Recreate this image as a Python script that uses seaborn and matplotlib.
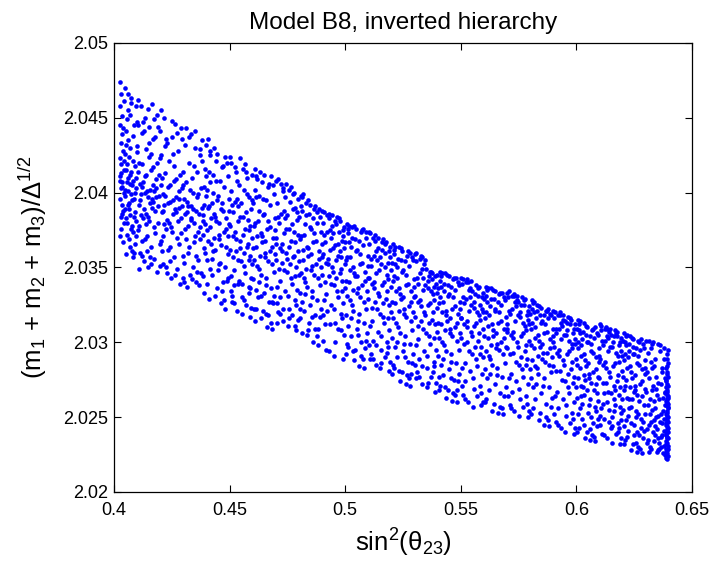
import matplotlib
matplotlib.use("Agg")
import matplotlib.pyplot as plt
from matplotlib.ticker import FixedLocator, FuncFormatter
import seaborn as sns
import pandas as pd

# points: (sin^2(theta23), (m1+m2+m3)/Delta^(1/2))
# grouped by sin^2(theta23) range
pts_040_044 = [
    (0.4026, 2.0474), (0.4031, 2.0466), (0.4028, 2.0458), (0.4035, 2.0451), (0.4027, 2.0445),
    (0.4033, 2.0439), (0.4029, 2.0433), (0.4038, 2.0428), (0.4026, 2.0423), (0.4032, 2.0419),
    (0.4041, 2.0415), (0.4028, 2.0411), (0.4036, 2.0407), (0.4030, 2.0403), (0.4043, 2.0400),
    (0.4027, 2.0396), (0.4034, 2.0392), (0.4039, 2.0388), (0.4029, 2.0384), (0.4044, 2.0380),
    (0.4032, 2.0376), (0.4027, 2.0371), (0.4037, 2.0367), (0.4030, 2.0413), (0.4042, 2.0421),
    (0.4035, 2.0404), (0.4040, 2.0443), (0.4026, 2.0408), (0.4033, 2.0386), (0.4045, 2.0461),
    (0.4047, 2.0470), (0.4052, 2.0441), (0.4049, 2.0398), (0.4055, 2.0372), (0.4058, 2.0419),
    (0.4051, 2.0359), (0.4061, 2.0455), (0.4054, 2.0407), (0.4064, 2.0389), (0.4048, 2.0426),
    (0.4067, 2.0364), (0.4059, 2.0435), (0.4070, 2.0412), (0.4053, 2.0383), (0.4073, 2.0463),
    (0.4062, 2.0401), (0.4076, 2.0378), (0.4057, 2.0449), (0.4079, 2.0395), (0.4066, 2.0369),
    (0.4082, 2.0421), (0.4060, 2.0392), (0.4085, 2.0445), (0.4071, 2.0406), (0.4088, 2.0360),
    (0.4068, 2.0430), (0.4091, 2.0387), (0.4075, 2.0414), (0.4094, 2.0458), (0.4080, 2.0374),
    (0.4097, 2.0403), (0.4084, 2.0438), (0.4050, 2.0415), (0.4087, 2.0396), (0.4056, 2.0380),
    (0.4090, 2.0366), (0.4063, 2.0424), (0.4093, 2.0410), (0.4069, 2.0452), (0.4096, 2.0381),
    (0.4074, 2.0399), (0.4099, 2.0427), (0.4078, 2.0361), (0.4046, 2.0389), (0.4081, 2.0408),
    (0.4059, 2.0466), (0.4086, 2.0384), (0.4065, 2.0393), (0.4092, 2.0418), (0.4072, 2.0376),
    (0.4098, 2.0447), (0.4077, 2.0405), (0.4053, 2.0432), (0.4083, 2.0357), (0.4060, 2.0410),
    (0.4089, 2.0400), (0.4067, 2.0385), (0.4095, 2.0371), (0.4074, 2.0460), (0.4048, 2.0402),
    (0.4101, 2.0431), (0.4107, 2.0392), (0.4113, 2.0360), (0.4104, 2.0462), (0.4119, 2.0404),
    (0.4110, 2.0378), (0.4125, 2.0447), (0.4116, 2.0399), (0.4131, 2.0354), (0.4122, 2.0419),
    (0.4137, 2.0386), (0.4128, 2.0441), (0.4143, 2.0401), (0.4134, 2.0369), (0.4149, 2.0456),
    (0.4140, 2.0412), (0.4155, 2.0393), (0.4146, 2.0350), (0.4161, 2.0426), (0.4152, 2.0381),
    (0.4167, 2.0405), (0.4158, 2.0364), (0.4173, 2.0449), (0.4164, 2.0396), (0.4179, 2.0373),
    (0.4170, 2.0417), (0.4185, 2.0347), (0.4176, 2.0437), (0.4191, 2.0391), (0.4182, 2.0409),
    (0.4197, 2.0366), (0.4188, 2.0452), (0.4102, 2.0414), (0.4194, 2.0398), (0.4108, 2.0349),
    (0.4199, 2.0423), (0.4114, 2.0395), (0.4105, 2.0375), (0.4120, 2.0440), (0.4111, 2.0406),
    (0.4126, 2.0383), (0.4117, 2.0458), (0.4132, 2.0400), (0.4123, 2.0358), (0.4138, 2.0429),
    (0.4129, 2.0389), (0.4144, 2.0371), (0.4135, 2.0411), (0.4150, 2.0444), (0.4141, 2.0361),
    (0.4156, 2.0402), (0.4147, 2.0384), (0.4162, 2.0352), (0.4153, 2.0433), (0.4168, 2.0394),
    (0.4159, 2.0415), (0.4174, 2.0377), (0.4165, 2.0459), (0.4180, 2.0403), (0.4171, 2.0356),
    (0.4186, 2.0420), (0.4177, 2.0388), (0.4192, 2.0444), (0.4183, 2.0397), (0.4198, 2.0351),
    (0.4189, 2.0380), (0.4103, 2.0445), (0.4195, 2.0412), (0.4109, 2.0420), (0.4115, 2.0385),
    (0.4121, 2.0368), (0.4127, 2.0407), (0.4133, 2.0450), (0.4139, 2.0379), (0.4145, 2.0397),
    (0.4151, 2.0424), (0.4157, 2.0357), (0.4163, 2.0390), (0.4169, 2.0436), (0.4175, 2.0401),
    (0.4201, 2.0441), (0.4207, 2.0387), (0.4213, 2.0352), (0.4204, 2.0455), (0.4219, 2.0398),
    (0.4210, 2.0371), (0.4225, 2.0436), (0.4216, 2.0392), (0.4231, 2.0346), (0.4222, 2.0413),
    (0.4237, 2.0380), (0.4228, 2.0433), (0.4243, 2.0394), (0.4234, 2.0362), (0.4249, 2.0448),
    (0.4240, 2.0405), (0.4255, 2.0386), (0.4246, 2.0343), (0.4261, 2.0418), (0.4252, 2.0374),
    (0.4267, 2.0397), (0.4258, 2.0357), (0.4273, 2.0440), (0.4264, 2.0389), (0.4279, 2.0366),
    (0.4270, 2.0409), (0.4285, 2.0339), (0.4276, 2.0428), (0.4291, 2.0383), (0.4282, 2.0401),
    (0.4297, 2.0358), (0.4288, 2.0443), (0.4202, 2.0405), (0.4294, 2.0391), (0.4208, 2.0361),
    (0.4299, 2.0414), (0.4214, 2.0388), (0.4205, 2.0368), (0.4220, 2.0431), (0.4211, 2.0399),
    (0.4226, 2.0376), (0.4217, 2.0450), (0.4232, 2.0393), (0.4223, 2.0350), (0.4238, 2.0421),
    (0.4229, 2.0382), (0.4244, 2.0364), (0.4235, 2.0404), (0.4250, 2.0437), (0.4241, 2.0354),
    (0.4256, 2.0395), (0.4247, 2.0377), (0.4262, 2.0345), (0.4253, 2.0426), (0.4268, 2.0387),
    (0.4259, 2.0408), (0.4274, 2.0370), (0.4265, 2.0446), (0.4280, 2.0396), (0.4271, 2.0349),
    (0.4286, 2.0412), (0.4277, 2.0381), (0.4292, 2.0436), (0.4283, 2.0390), (0.4298, 2.0343),
    (0.4289, 2.0373), (0.4203, 2.0425), (0.4295, 2.0403), (0.4209, 2.0410), (0.4215, 2.0379),
    (0.4398, 2.0432), (0.4392, 2.0379), (0.4386, 2.0344), (0.4395, 2.0416), (0.4380, 2.0390),
    (0.4389, 2.0363), (0.4374, 2.0425), (0.4383, 2.0385), (0.4368, 2.0338), (0.4377, 2.0403),
    (0.4362, 2.0374), (0.4371, 2.0429), (0.4356, 2.0388), (0.4365, 2.0355), (0.4350, 2.0441),
    (0.4359, 2.0397), (0.4344, 2.0380), (0.4353, 2.0340), (0.4338, 2.0410), (0.4347, 2.0367),
    (0.4332, 2.0391), (0.4341, 2.0350), (0.4326, 2.0437), (0.4335, 2.0382), (0.4320, 2.0360),
    (0.4329, 2.0402), (0.4314, 2.0337), (0.4323, 2.0420), (0.4308, 2.0376), (0.4317, 2.0394),
    (0.4302, 2.0353), (0.4311, 2.0443), (0.4397, 2.0398), (0.4305, 2.0386), (0.4391, 2.0333),
    (0.4300, 2.0405), (0.4385, 2.0381), (0.4394, 2.0360), (0.4379, 2.0421), (0.4388, 2.0392),
    (0.4373, 2.0369), (0.4382, 2.0435), (0.4367, 2.0386), (0.4376, 2.0346), (0.4361, 2.0414),
    (0.4370, 2.0377), (0.4355, 2.0358), (0.4364, 2.0399), (0.4349, 2.0430), (0.4358, 2.0347),
    (0.4343, 2.0389), (0.4352, 2.0371), (0.4337, 2.0342), (0.4346, 2.0418), (0.4331, 2.0383),
    (0.4340, 2.0400), (0.4325, 2.0364), (0.4334, 2.0439), (0.4319, 2.0391), (0.4328, 2.0345),
    (0.4313, 2.0407), (0.4322, 2.0378), (0.4307, 2.0432), (0.4316, 2.0387), (0.4301, 2.0340),
    (0.4310, 2.0369), (0.4396, 2.0411), (0.4304, 2.0396), (0.4390, 2.0404), (0.4384, 2.0372),
]

pts_044_048 = [
    (0.4401, 2.0402), (0.4407, 2.0368), (0.4413, 2.0425), (0.4404, 2.0339), (0.4419, 2.0383),
    (0.4410, 2.0414), (0.4425, 2.0356), (0.4416, 2.0377), (0.4431, 2.0430), (0.4422, 2.0393),
    (0.4437, 2.0331), (0.4428, 2.0361), (0.4443, 2.0408), (0.4434, 2.0386), (0.4449, 2.0348),
    (0.4440, 2.0421), (0.4455, 2.0372), (0.4446, 2.0395), (0.4461, 2.0326), (0.4452, 2.0380),
    (0.4467, 2.0417), (0.4458, 2.0353), (0.4473, 2.0388), (0.4464, 2.0365), (0.4479, 2.0424),
    (0.4470, 2.0340), (0.4485, 2.0376), (0.4476, 2.0404), (0.4491, 2.0359), (0.4482, 2.0322),
    (0.4497, 2.0396), (0.4488, 2.0420), (0.4402, 2.0375), (0.4494, 2.0343), (0.4408, 2.0436),
    (0.4499, 2.0379), (0.4414, 2.0349), (0.4405, 2.0390), (0.4420, 2.0366), (0.4411, 2.0329),
    (0.4426, 2.0400), (0.4417, 2.0428), (0.4432, 2.0370), (0.4423, 2.0345), (0.4438, 2.0384),
    (0.4429, 2.0412), (0.4444, 2.0336), (0.4435, 2.0362), (0.4450, 2.0398), (0.4441, 2.0381),
    (0.4456, 2.0352), (0.4447, 2.0426), (0.4462, 2.0389), (0.4453, 2.0369), (0.4468, 2.0334),
    (0.4459, 2.0408), (0.4474, 2.0374), (0.4465, 2.0393), (0.4480, 2.0350), (0.4471, 2.0418),
    (0.4486, 2.0383), (0.4477, 2.0328), (0.4492, 2.0411), (0.4483, 2.0364), (0.4498, 2.0388),
    (0.4489, 2.0341), (0.4403, 2.0355), (0.4495, 2.0371), (0.4409, 2.0391), (0.4415, 2.0407),
    (0.4598, 2.0352), (0.4592, 2.0389), (0.4586, 2.0333), (0.4595, 2.0412), (0.4580, 2.0366),
    (0.4589, 2.0317), (0.4574, 2.0399), (0.4583, 2.0375), (0.4568, 2.0346), (0.4577, 2.0410),
    (0.4562, 2.0360), (0.4571, 2.0325), (0.4556, 2.0384), (0.4565, 2.0419), (0.4550, 2.0354),
    (0.4559, 2.0372), (0.4544, 2.0423), (0.4553, 2.0339), (0.4538, 2.0391), (0.4547, 2.0363),
    (0.4532, 2.0321), (0.4541, 2.0405), (0.4526, 2.0369), (0.4535, 2.0381), (0.4520, 2.0338),
    (0.4529, 2.0414), (0.4514, 2.0357), (0.4523, 2.0394), (0.4508, 2.0420), (0.4517, 2.0348),
    (0.4502, 2.0378), (0.4511, 2.0327), (0.4597, 2.0370), (0.4505, 2.0401), (0.4591, 2.0343),
    (0.4500, 2.0362), (0.4585, 2.0397), (0.4594, 2.0323), (0.4579, 2.0382), (0.4588, 2.0358),
    (0.4573, 2.0414), (0.4582, 2.0337), (0.4567, 2.0376), (0.4576, 2.0364), (0.4561, 2.0402),
    (0.4570, 2.0387), (0.4555, 2.0330), (0.4564, 2.0351), (0.4549, 2.0393), (0.4558, 2.0416),
    (0.4543, 2.0368), (0.4552, 2.0319), (0.4537, 2.0355), (0.4546, 2.0384), (0.4531, 2.0408),
    (0.4540, 2.0341), (0.4525, 2.0374), (0.4534, 2.0396), (0.4519, 2.0326), (0.4528, 2.0361),
    (0.4513, 2.0387), (0.4522, 2.0417), (0.4507, 2.0344), (0.4516, 2.0371), (0.4501, 2.0424),
    (0.4510, 2.0392), (0.4596, 2.0395), (0.4504, 2.0334), (0.4590, 2.0378), (0.4584, 2.0355),
    (0.4601, 2.0393), (0.4607, 2.0355), (0.4613, 2.0411), (0.4604, 2.0322), (0.4619, 2.0371),
    (0.4610, 2.0402), (0.4625, 2.0340), (0.4616, 2.0364), (0.4631, 2.0414), (0.4622, 2.0381),
    (0.4637, 2.0316), (0.4628, 2.0349), (0.4643, 2.0396), (0.4634, 2.0373), (0.4649, 2.0333),
    (0.4640, 2.0407), (0.4655, 2.0360), (0.4646, 2.0385), (0.4661, 2.0310), (0.4652, 2.0368),
    (0.4667, 2.0404), (0.4658, 2.0343), (0.4673, 2.0377), (0.4664, 2.0354), (0.4679, 2.0411),
    (0.4670, 2.0327), (0.4685, 2.0364), (0.4676, 2.0392), (0.4691, 2.0347), (0.4682, 2.0309),
    (0.4697, 2.0383), (0.4688, 2.0405), (0.4602, 2.0363), (0.4694, 2.0331), (0.4608, 2.0416),
    (0.4699, 2.0366), (0.4614, 2.0335), (0.4605, 2.0378), (0.4620, 2.0351), (0.4611, 2.0314),
    (0.4626, 2.0388), (0.4617, 2.0409), (0.4632, 2.0358), (0.4623, 2.0330), (0.4638, 2.0371),
    (0.4629, 2.0398), (0.4644, 2.0321), (0.4635, 2.0345), (0.4650, 2.0386), (0.4641, 2.0367),
    (0.4656, 2.0338), (0.4647, 2.0412), (0.4662, 2.0376), (0.4653, 2.0357), (0.4668, 2.0318),
    (0.4659, 2.0395), (0.4674, 2.0361), (0.4665, 2.0381), (0.4680, 2.0336), (0.4671, 2.0406),
    (0.4686, 2.0370), (0.4677, 2.0313), (0.4692, 2.0399), (0.4683, 2.0352), (0.4698, 2.0375),
    (0.4689, 2.0326), (0.4603, 2.0342), (0.4695, 2.0359), (0.4609, 2.0380), (0.4615, 2.0397),
    (0.4798, 2.0345), (0.4792, 2.0382), (0.4786, 2.0325), (0.4795, 2.0396), (0.4780, 2.0358),
    (0.4789, 2.0308), (0.4774, 2.0389), (0.4783, 2.0367), (0.4768, 2.0339), (0.4777, 2.0400),
    (0.4762, 2.0352), (0.4771, 2.0318), (0.4756, 2.0376), (0.4765, 2.0404), (0.4750, 2.0347),
    (0.4759, 2.0364), (0.4744, 2.0406), (0.4753, 2.0331), (0.4738, 2.0383), (0.4747, 2.0356),
    (0.4732, 2.0314), (0.4741, 2.0397), (0.4726, 2.0361), (0.4735, 2.0373), (0.4720, 2.0330),
    (0.4729, 2.0403), (0.4714, 2.0349), (0.4723, 2.0386), (0.4708, 2.0409), (0.4717, 2.0341),
    (0.4702, 2.0370), (0.4711, 2.0320), (0.4797, 2.0361), (0.4705, 2.0393), (0.4791, 2.0335),
    (0.4700, 2.0355), (0.4785, 2.0390), (0.4794, 2.0315), (0.4779, 2.0374), (0.4788, 2.0350),
    (0.4773, 2.0399), (0.4782, 2.0328), (0.4767, 2.0368), (0.4776, 2.0357), (0.4761, 2.0394),
    (0.4770, 2.0379), (0.4755, 2.0322), (0.4764, 2.0343), (0.4749, 2.0385), (0.4758, 2.0402),
    (0.4743, 2.0360), (0.4752, 2.0311), (0.4737, 2.0348), (0.4746, 2.0376), (0.4731, 2.0401),
    (0.4740, 2.0334), (0.4725, 2.0366), (0.4734, 2.0388), (0.4719, 2.0319), (0.4728, 2.0353),
    (0.4713, 2.0380), (0.4722, 2.0406), (0.4707, 2.0337), (0.4716, 2.0363), (0.4701, 2.0408),
    (0.4710, 2.0384), (0.4796, 2.0372), (0.4704, 2.0326), (0.4790, 2.0387), (0.4784, 2.0344),
]

pts_048_052 = [
    (0.4801, 2.0384), (0.4807, 2.0346), (0.4813, 2.0397), (0.4804, 2.0316), (0.4819, 2.0362),
    (0.4810, 2.0391), (0.4825, 2.0332), (0.4816, 2.0355), (0.4831, 2.0393), (0.4822, 2.0372),
    (0.4837, 2.0308), (0.4828, 2.0340), (0.4843, 2.0386), (0.4834, 2.0364), (0.4849, 2.0325),
    (0.4840, 2.0395), (0.4855, 2.0351), (0.4846, 2.0377), (0.4861, 2.0300), (0.4852, 2.0359),
    (0.4867, 2.0389), (0.4858, 2.0334), (0.4873, 2.0368), (0.4864, 2.0345), (0.4879, 2.0387),
    (0.4870, 2.0318), (0.4885, 2.0356), (0.4876, 2.0380), (0.4891, 2.0338), (0.4882, 2.0298),
    (0.4897, 2.0374), (0.4888, 2.0389), (0.4802, 2.0354), (0.4894, 2.0322), (0.4808, 2.0398),
    (0.4899, 2.0357), (0.4814, 2.0327), (0.4805, 2.0369), (0.4820, 2.0343), (0.4811, 2.0306),
    (0.4826, 2.0379), (0.4817, 2.0399), (0.4832, 2.0349), (0.4823, 2.0321), (0.4838, 2.0363),
    (0.4829, 2.0385), (0.4844, 2.0313), (0.4835, 2.0337), (0.4850, 2.0376), (0.4841, 2.0358),
    (0.4856, 2.0330), (0.4847, 2.0392), (0.4862, 2.0367), (0.4853, 2.0348), (0.4868, 2.0309),
    (0.4859, 2.0383), (0.4874, 2.0352), (0.4865, 2.0373), (0.4880, 2.0328), (0.4871, 2.0391),
    (0.4886, 2.0361), (0.4877, 2.0304), (0.4892, 2.0384), (0.4883, 2.0343), (0.4898, 2.0366),
    (0.4889, 2.0317), (0.4803, 2.0333), (0.4895, 2.0350), (0.4809, 2.0371), (0.4815, 2.0388),
    (0.4998, 2.0336), (0.4992, 2.0371), (0.4986, 2.0316), (0.4995, 2.0377), (0.4980, 2.0349),
    (0.4989, 2.0289), (0.4974, 2.0374), (0.4983, 2.0357), (0.4968, 2.0330), (0.4977, 2.0381),
    (0.4962, 2.0343), (0.4971, 2.0309), (0.4956, 2.0365), (0.4965, 2.0384), (0.4950, 2.0338),
    (0.4959, 2.0355), (0.4944, 2.0385), (0.4953, 2.0322), (0.4938, 2.0370), (0.4947, 2.0347),
    (0.4932, 2.0294), (0.4941, 2.0378), (0.4926, 2.0352), (0.4935, 2.0362), (0.4920, 2.0321),
    (0.4929, 2.0386), (0.4914, 2.0340), (0.4923, 2.0374), (0.4908, 2.0387), (0.4917, 2.0332),
    (0.4902, 2.0359), (0.4911, 2.0312), (0.4997, 2.0352), (0.4905, 2.0380), (0.4991, 2.0326),
    (0.4900, 2.0345), (0.4985, 2.0368), (0.4994, 2.0305), (0.4979, 2.0361), (0.4988, 2.0341),
    (0.4973, 2.0383), (0.4982, 2.0319), (0.4967, 2.0358), (0.4976, 2.0346), (0.4961, 2.0379),
    (0.4970, 2.0366), (0.4955, 2.0313), (0.4964, 2.0334), (0.4949, 2.0373), (0.4958, 2.0381),
    (0.4943, 2.0350), (0.4952, 2.0291), (0.4937, 2.0339), (0.4946, 2.0363), (0.4931, 2.0383),
    (0.4940, 2.0325), (0.4925, 2.0356), (0.4934, 2.0375), (0.4919, 2.0295), (0.4928, 2.0344),
    (0.4913, 2.0367), (0.4922, 2.0385), (0.4907, 2.0328), (0.4916, 2.0353), (0.4901, 2.0388),
    (0.4910, 2.0372), (0.4996, 2.0363), (0.4904, 2.0318), (0.4990, 2.0375), (0.4984, 2.0334),
    (0.5001, 2.0367), (0.5007, 2.0331), (0.5013, 2.0376), (0.5004, 2.0292), (0.5019, 2.0348),
    (0.5010, 2.0373), (0.5025, 2.0316), (0.5016, 2.0340), (0.5031, 2.0377), (0.5022, 2.0357),
    (0.5037, 2.0288), (0.5028, 2.0325), (0.5043, 2.0369), (0.5034, 2.0350), (0.5049, 2.0309),
    (0.5040, 2.0378), (0.5055, 2.0336), (0.5046, 2.0361), (0.5061, 2.0284), (0.5052, 2.0344),
    (0.5067, 2.0374), (0.5058, 2.0319), (0.5073, 2.0353), (0.5064, 2.0330), (0.5079, 2.0376),
    (0.5070, 2.0300), (0.5085, 2.0341), (0.5076, 2.0365), (0.5091, 2.0322), (0.5082, 2.0283),
    (0.5097, 2.0358), (0.5088, 2.0374), (0.5002, 2.0341), (0.5094, 2.0306), (0.5008, 2.0379),
    (0.5099, 2.0343), (0.5014, 2.0311), (0.5005, 2.0355), (0.5020, 2.0328), (0.5011, 2.0297),
    (0.5026, 2.0364), (0.5017, 2.0378), (0.5032, 2.0335), (0.5023, 2.0304), (0.5038, 2.0346),
    (0.5029, 2.0370), (0.5044, 2.0295), (0.5035, 2.0321), (0.5050, 2.0362), (0.5041, 2.0344),
    (0.5056, 2.0314), (0.5047, 2.0376), (0.5062, 2.0352), (0.5053, 2.0333), (0.5068, 2.0291),
    (0.5059, 2.0368), (0.5074, 2.0338), (0.5065, 2.0359), (0.5080, 2.0313), (0.5071, 2.0375),
    (0.5086, 2.0347), (0.5077, 2.0289), (0.5092, 2.0370), (0.5083, 2.0327), (0.5098, 2.0351),
    (0.5089, 2.0301), (0.5003, 2.0318), (0.5095, 2.0334), (0.5009, 2.0357), (0.5015, 2.0367),
    (0.5198, 2.0320), (0.5192, 2.0357), (0.5186, 2.0297), (0.5195, 2.0364), (0.5180, 2.0334),
    (0.5189, 2.0281), (0.5174, 2.0360), (0.5183, 2.0342), (0.5168, 2.0313), (0.5177, 2.0367),
    (0.5162, 2.0326), (0.5171, 2.0290), (0.5156, 2.0352), (0.5165, 2.0369), (0.5150, 2.0319),
    (0.5159, 2.0338), (0.5144, 2.0370), (0.5153, 2.0304), (0.5138, 2.0355), (0.5147, 2.0331),
    (0.5132, 2.0285), (0.5141, 2.0363), (0.5126, 2.0336), (0.5135, 2.0346), (0.5120, 2.0301),
    (0.5129, 2.0372), (0.5114, 2.0323), (0.5123, 2.0358), (0.5108, 2.0373), (0.5117, 2.0314),
    (0.5102, 2.0343), (0.5111, 2.0292), (0.5197, 2.0337), (0.5105, 2.0366), (0.5191, 2.0308),
    (0.5100, 2.0329), (0.5185, 2.0353), (0.5194, 2.0287), (0.5179, 2.0345), (0.5188, 2.0325),
    (0.5173, 2.0366), (0.5182, 2.0300), (0.5167, 2.0340), (0.5176, 2.0329), (0.5161, 2.0362),
    (0.5170, 2.0350), (0.5155, 2.0295), (0.5164, 2.0317), (0.5149, 2.0357), (0.5158, 2.0367),
    (0.5143, 2.0333), (0.5152, 2.0283), (0.5137, 2.0322), (0.5146, 2.0348), (0.5131, 2.0368),
    (0.5140, 2.0307), (0.5125, 2.0340), (0.5134, 2.0361), (0.5119, 2.0289), (0.5128, 2.0327),
    (0.5113, 2.0351), (0.5122, 2.0370), (0.5107, 2.0311), (0.5116, 2.0339), (0.5101, 2.0374),
    (0.5110, 2.0356), (0.5196, 2.0348), (0.5104, 2.0298), (0.5190, 2.0361), (0.5184, 2.0316),
]

pts_052_056 = [
    (0.5201, 2.0353), (0.5207, 2.0316), (0.5213, 2.0362), (0.5204, 2.0279), (0.5219, 2.0334),
    (0.5210, 2.0359), (0.5225, 2.0300), (0.5216, 2.0326), (0.5231, 2.0364), (0.5222, 2.0343),
    (0.5237, 2.0274), (0.5228, 2.0310), (0.5243, 2.0355), (0.5234, 2.0336), (0.5249, 2.0294),
    (0.5240, 2.0363), (0.5255, 2.0322), (0.5246, 2.0347), (0.5261, 2.0272), (0.5252, 2.0330),
    (0.5267, 2.0358), (0.5258, 2.0304), (0.5273, 2.0339), (0.5264, 2.0317), (0.5279, 2.0360),
    (0.5270, 2.0287), (0.5285, 2.0327), (0.5276, 2.0351), (0.5291, 2.0308), (0.5282, 2.0271),
    (0.5297, 2.0342), (0.5288, 2.0357), (0.5202, 2.0327), (0.5294, 2.0292), (0.5208, 2.0366),
    (0.5299, 2.0330), (0.5214, 2.0297), (0.5205, 2.0341), (0.5220, 2.0313), (0.5211, 2.0283),
    (0.5226, 2.0350), (0.5217, 2.0364), (0.5232, 2.0321), (0.5223, 2.0290), (0.5238, 2.0332),
    (0.5229, 2.0356), (0.5244, 2.0280), (0.5235, 2.0306), (0.5250, 2.0348), (0.5241, 2.0329),
    (0.5256, 2.0299), (0.5247, 2.0361), (0.5262, 2.0338), (0.5253, 2.0319), (0.5268, 2.0278),
    (0.5259, 2.0354), (0.5274, 2.0324), (0.5265, 2.0345), (0.5280, 2.0299), (0.5271, 2.0361),
    (0.5286, 2.0334), (0.5277, 2.0276), (0.5292, 2.0355), (0.5283, 2.0314), (0.5298, 2.0337),
    (0.5289, 2.0286), (0.5203, 2.0303), (0.5295, 2.0320), (0.5209, 2.0344), (0.5215, 2.0352),
    (0.5398, 2.0307), (0.5392, 2.0339), (0.5386, 2.0284), (0.5395, 2.0345), (0.5380, 2.0320),
    (0.5389, 2.0267), (0.5374, 2.0342), (0.5383, 2.0328), (0.5368, 2.0299), (0.5377, 2.0346),
    (0.5362, 2.0313), (0.5371, 2.0277), (0.5356, 2.0336), (0.5365, 2.0347), (0.5350, 2.0306),
    (0.5359, 2.0325), (0.5344, 2.0355), (0.5353, 2.0291), (0.5338, 2.0343), (0.5347, 2.0318),
    (0.5332, 2.0272), (0.5341, 2.0352), (0.5326, 2.0324), (0.5335, 2.0335), (0.5320, 2.0289),
    (0.5329, 2.0358), (0.5314, 2.0311), (0.5323, 2.0346), (0.5308, 2.0360), (0.5317, 2.0302),
    (0.5302, 2.0331), (0.5311, 2.0280), (0.5397, 2.0323), (0.5305, 2.0354), (0.5391, 2.0295),
    (0.5300, 2.0317), (0.5385, 2.0337), (0.5394, 2.0273), (0.5379, 2.0332), (0.5388, 2.0312),
    (0.5373, 2.0347), (0.5382, 2.0287), (0.5367, 2.0326), (0.5376, 2.0315), (0.5361, 2.0344),
    (0.5370, 2.0334), (0.5355, 2.0283), (0.5364, 2.0304), (0.5349, 2.0349), (0.5358, 2.0341),
    (0.5343, 2.0320), (0.5352, 2.0270), (0.5337, 2.0309), (0.5346, 2.0338), (0.5331, 2.0357),
    (0.5340, 2.0294), (0.5325, 2.0328), (0.5334, 2.0349), (0.5319, 2.0277), (0.5328, 2.0314),
    (0.5313, 2.0339), (0.5322, 2.0356), (0.5307, 2.0298), (0.5316, 2.0327), (0.5301, 2.0359),
    (0.5310, 2.0343), (0.5396, 2.0333), (0.5304, 2.0285), (0.5390, 2.0344), (0.5384, 2.0303),
    (0.5401, 2.0336), (0.5407, 2.0303), (0.5413, 2.0344), (0.5404, 2.0268), (0.5419, 2.0320),
    (0.5410, 2.0341), (0.5425, 2.0289), (0.5416, 2.0312), (0.5431, 2.0346), (0.5422, 2.0327),
    (0.5437, 2.0263), (0.5428, 2.0298), (0.5443, 2.0338), (0.5434, 2.0321), (0.5449, 2.0282),
    (0.5440, 2.0345), (0.5455, 2.0309), (0.5446, 2.0331), (0.5461, 2.0261), (0.5452, 2.0316),
    (0.5467, 2.0342), (0.5458, 2.0292), (0.5473, 2.0324), (0.5464, 2.0304), (0.5479, 2.0343),
    (0.5470, 2.0275), (0.5485, 2.0313), (0.5476, 2.0335), (0.5491, 2.0295), (0.5482, 2.0260),
    (0.5497, 2.0327), (0.5488, 2.0340), (0.5402, 2.0313), (0.5494, 2.0279), (0.5408, 2.0347),
    (0.5499, 2.0316), (0.5414, 2.0285), (0.5405, 2.0326), (0.5420, 2.0300), (0.5411, 2.0271),
    (0.5426, 2.0334), (0.5417, 2.0346), (0.5432, 2.0308), (0.5423, 2.0278), (0.5438, 2.0318),
    (0.5429, 2.0339), (0.5444, 2.0268), (0.5435, 2.0294), (0.5450, 2.0332), (0.5441, 2.0314),
    (0.5456, 2.0287), (0.5447, 2.0344), (0.5462, 2.0322), (0.5453, 2.0306), (0.5468, 2.0266),
    (0.5459, 2.0337), (0.5474, 2.0310), (0.5465, 2.0330), (0.5480, 2.0286), (0.5471, 2.0343),
    (0.5486, 2.0319), (0.5477, 2.0265), (0.5492, 2.0338), (0.5483, 2.0301), (0.5498, 2.0322),
    (0.5489, 2.0274), (0.5403, 2.0291), (0.5495, 2.0306), (0.5409, 2.0330), (0.5415, 2.0337),
    (0.5598, 2.0290), (0.5592, 2.0322), (0.5586, 2.0266), (0.5595, 2.0333), (0.5580, 2.0306),
    (0.5589, 2.0258), (0.5574, 2.0331), (0.5583, 2.0315), (0.5568, 2.0284), (0.5577, 2.0337),
    (0.5562, 2.0297), (0.5571, 2.0264), (0.5556, 2.0323), (0.5565, 2.0338), (0.5550, 2.0292),
    (0.5559, 2.0311), (0.5544, 2.0341), (0.5553, 2.0276), (0.5538, 2.0330), (0.5547, 2.0304),
    (0.5532, 2.0260), (0.5541, 2.0336), (0.5526, 2.0310), (0.5535, 2.0321), (0.5520, 2.0274),
    (0.5529, 2.0342), (0.5514, 2.0299), (0.5523, 2.0329), (0.5508, 2.0342), (0.5517, 2.0286),
    (0.5502, 2.0316), (0.5511, 2.0265), (0.5597, 2.0309), (0.5505, 2.0339), (0.5591, 2.0279),
    (0.5500, 2.0303), (0.5585, 2.0325), (0.5594, 2.0260), (0.5579, 2.0318), (0.5588, 2.0297),
    (0.5573, 2.0336), (0.5582, 2.0271), (0.5567, 2.0313), (0.5576, 2.0301), (0.5561, 2.0332),
    (0.5570, 2.0320), (0.5555, 2.0269), (0.5564, 2.0289), (0.5549, 2.0334), (0.5558, 2.0327),
    (0.5543, 2.0307), (0.5552, 2.0257), (0.5537, 2.0294), (0.5546, 2.0325), (0.5531, 2.0340),
    (0.5540, 2.0281), (0.5525, 2.0314), (0.5534, 2.0335), (0.5519, 2.0262), (0.5528, 2.0300),
    (0.5513, 2.0326), (0.5522, 2.0340), (0.5507, 2.0283), (0.5516, 2.0312), (0.5501, 2.0343),
    (0.5510, 2.0330), (0.5596, 2.0320), (0.5504, 2.0271), (0.5590, 2.0330), (0.5584, 2.0292),
]

pts_056_060 = [
    (0.5601, 2.0329), (0.5607, 2.0294), (0.5613, 2.0335), (0.5604, 2.0260), (0.5619, 2.0311),
    (0.5610, 2.0331), (0.5625, 2.0279), (0.5616, 2.0303), (0.5631, 2.0336), (0.5622, 2.0318),
    (0.5637, 2.0254), (0.5628, 2.0289), (0.5643, 2.0329), (0.5634, 2.0312), (0.5649, 2.0272),
    (0.5640, 2.0335), (0.5655, 2.0299), (0.5646, 2.0321), (0.5661, 2.0253), (0.5652, 2.0306),
    (0.5667, 2.0332), (0.5658, 2.0283), (0.5673, 2.0314), (0.5664, 2.0295), (0.5679, 2.0333),
    (0.5670, 2.0266), (0.5685, 2.0303), (0.5676, 2.0325), (0.5691, 2.0286), (0.5682, 2.0252),
    (0.5697, 2.0317), (0.5688, 2.0330), (0.5602, 2.0304), (0.5694, 2.0270), (0.5608, 2.0337),
    (0.5699, 2.0307), (0.5614, 2.0276), (0.5605, 2.0316), (0.5620, 2.0291), (0.5611, 2.0262),
    (0.5626, 2.0324), (0.5617, 2.0336), (0.5632, 2.0298), (0.5623, 2.0268), (0.5638, 2.0308),
    (0.5629, 2.0329), (0.5644, 2.0259), (0.5635, 2.0285), (0.5650, 2.0322), (0.5641, 2.0304),
    (0.5656, 2.0278), (0.5647, 2.0334), (0.5662, 2.0313), (0.5653, 2.0296), (0.5668, 2.0257),
    (0.5659, 2.0327), (0.5674, 2.0300), (0.5665, 2.0320), (0.5680, 2.0277), (0.5671, 2.0333),
    (0.5686, 2.0309), (0.5677, 2.0256), (0.5692, 2.0328), (0.5683, 2.0292), (0.5698, 2.0312),
    (0.5689, 2.0264), (0.5603, 2.0282), (0.5695, 2.0297), (0.5609, 2.0320), (0.5615, 2.0327),
    (0.5798, 2.0282), (0.5792, 2.0315), (0.5786, 2.0259), (0.5795, 2.0324), (0.5780, 2.0298),
    (0.5789, 2.0250), (0.5774, 2.0325), (0.5783, 2.0308), (0.5768, 2.0277), (0.5777, 2.0329),
    (0.5762, 2.0290), (0.5771, 2.0257), (0.5756, 2.0317), (0.5765, 2.0330), (0.5750, 2.0285),
    (0.5759, 2.0304), (0.5744, 2.0331), (0.5753, 2.0269), (0.5738, 2.0324), (0.5747, 2.0297),
    (0.5732, 2.0254), (0.5741, 2.0328), (0.5726, 2.0303), (0.5735, 2.0314), (0.5720, 2.0267),
    (0.5729, 2.0332), (0.5714, 2.0292), (0.5723, 2.0322), (0.5708, 2.0334), (0.5717, 2.0279),
    (0.5702, 2.0309), (0.5711, 2.0258), (0.5797, 2.0301), (0.5705, 2.0330), (0.5791, 2.0272),
    (0.5700, 2.0296), (0.5785, 2.0318), (0.5794, 2.0254), (0.5779, 2.0311), (0.5788, 2.0289),
    (0.5773, 2.0328), (0.5782, 2.0264), (0.5767, 2.0306), (0.5776, 2.0294), (0.5761, 2.0325),
    (0.5770, 2.0313), (0.5755, 2.0262), (0.5764, 2.0282), (0.5749, 2.0327), (0.5758, 2.0320),
    (0.5743, 2.0300), (0.5752, 2.0251), (0.5737, 2.0287), (0.5746, 2.0318), (0.5731, 2.0331),
    (0.5740, 2.0274), (0.5725, 2.0307), (0.5734, 2.0327), (0.5719, 2.0256), (0.5728, 2.0293),
    (0.5713, 2.0319), (0.5722, 2.0331), (0.5707, 2.0276), (0.5716, 2.0305), (0.5701, 2.0333),
    (0.5710, 2.0321), (0.5796, 2.0312), (0.5704, 2.0264), (0.5790, 2.0321), (0.5784, 2.0285),
    (0.5801, 2.0319), (0.5807, 2.0288), (0.5813, 2.0326), (0.5804, 2.0252), (0.5819, 2.0303),
    (0.5810, 2.0322), (0.5825, 2.0272), (0.5816, 2.0296), (0.5831, 2.0325), (0.5822, 2.0310),
    (0.5837, 2.0248), (0.5828, 2.0283), (0.5843, 2.0318), (0.5834, 2.0305), (0.5849, 2.0266),
    (0.5840, 2.0324), (0.5855, 2.0293), (0.5846, 2.0313), (0.5861, 2.0245), (0.5852, 2.0299),
    (0.5867, 2.0321), (0.5858, 2.0276), (0.5873, 2.0307), (0.5864, 2.0287), (0.5879, 2.0322),
    (0.5870, 2.0259), (0.5885, 2.0296), (0.5876, 2.0316), (0.5891, 2.0280), (0.5882, 2.0244),
    (0.5897, 2.0309), (0.5888, 2.0319), (0.5802, 2.0298), (0.5894, 2.0263), (0.5808, 2.0328),
    (0.5899, 2.0300), (0.5814, 2.0270), (0.5805, 2.0309), (0.5820, 2.0284), (0.5811, 2.0256),
    (0.5826, 2.0316), (0.5817, 2.0327), (0.5832, 2.0291), (0.5823, 2.0262), (0.5838, 2.0301),
    (0.5829, 2.0321), (0.5844, 2.0253), (0.5835, 2.0279), (0.5850, 2.0314), (0.5841, 2.0297),
    (0.5856, 2.0271), (0.5847, 2.0323), (0.5862, 2.0306), (0.5853, 2.0289), (0.5868, 2.0250),
    (0.5859, 2.0318), (0.5874, 2.0293), (0.5865, 2.0312), (0.5880, 2.0270), (0.5871, 2.0321),
    (0.5886, 2.0302), (0.5877, 2.0248), (0.5892, 2.0318), (0.5883, 2.0285), (0.5898, 2.0304),
    (0.5889, 2.0257), (0.5803, 2.0276), (0.5895, 2.0290), (0.5809, 2.0313), (0.5815, 2.0320),
    (0.5998, 2.0270), (0.5992, 2.0302), (0.5986, 2.0249), (0.5995, 2.0312), (0.5980, 2.0287),
    (0.5989, 2.0239), (0.5974, 2.0312), (0.5983, 2.0296), (0.5968, 2.0266), (0.5977, 2.0315),
    (0.5962, 2.0279), (0.5971, 2.0246), (0.5956, 2.0305), (0.5965, 2.0317), (0.5950, 2.0274),
    (0.5959, 2.0292), (0.5944, 2.0318), (0.5953, 2.0258), (0.5938, 2.0311), (0.5947, 2.0285),
    (0.5932, 2.0243), (0.5941, 2.0315), (0.5926, 2.0291), (0.5935, 2.0302), (0.5920, 2.0256),
    (0.5929, 2.0320), (0.5914, 2.0281), (0.5923, 2.0309), (0.5908, 2.0320), (0.5917, 2.0267),
    (0.5902, 2.0297), (0.5911, 2.0247), (0.5997, 2.0289), (0.5905, 2.0316), (0.5991, 2.0260),
    (0.5900, 2.0284), (0.5985, 2.0306), (0.5994, 2.0243), (0.5979, 2.0299), (0.5988, 2.0277),
    (0.5973, 2.0316), (0.5982, 2.0253), (0.5967, 2.0294), (0.5976, 2.0282), (0.5961, 2.0313),
    (0.5970, 2.0301), (0.5955, 2.0251), (0.5964, 2.0270), (0.5949, 2.0314), (0.5958, 2.0308),
    (0.5943, 2.0288), (0.5952, 2.0240), (0.5937, 2.0275), (0.5946, 2.0305), (0.5931, 2.0318),
    (0.5940, 2.0262), (0.5925, 2.0295), (0.5934, 2.0313), (0.5919, 2.0245), (0.5928, 2.0281),
    (0.5913, 2.0306), (0.5922, 2.0318), (0.5907, 2.0264), (0.5916, 2.0293), (0.5901, 2.0321),
    (0.5910, 2.0309), (0.5996, 2.0299), (0.5904, 2.0252), (0.5990, 2.0309), (0.5984, 2.0273),
]

pts_060_064 = [
    (0.6001, 2.0309), (0.6007, 2.0276), (0.6013, 2.0312), (0.6004, 2.0240), (0.6019, 2.0291),
    (0.6010, 2.0308), (0.6025, 2.0259), (0.6016, 2.0283), (0.6031, 2.0313), (0.6022, 2.0298),
    (0.6037, 2.0236), (0.6028, 2.0270), (0.6043, 2.0305), (0.6034, 2.0292), (0.6049, 2.0253),
    (0.6040, 2.0311), (0.6055, 2.0279), (0.6046, 2.0300), (0.6061, 2.0235), (0.6052, 2.0286),
    (0.6067, 2.0308), (0.6058, 2.0262), (0.6073, 2.0293), (0.6064, 2.0273), (0.6079, 2.0310),
    (0.6070, 2.0246), (0.6085, 2.0282), (0.6076, 2.0303), (0.6091, 2.0266), (0.6082, 2.0234),
    (0.6097, 2.0296), (0.6088, 2.0306), (0.6002, 2.0285), (0.6094, 2.0249), (0.6008, 2.0315),
    (0.6099, 2.0287), (0.6014, 2.0256), (0.6005, 2.0296), (0.6020, 2.0271), (0.6011, 2.0243),
    (0.6026, 2.0302), (0.6017, 2.0314), (0.6032, 2.0278), (0.6023, 2.0249), (0.6038, 2.0288),
    (0.6029, 2.0307), (0.6044, 2.0240), (0.6035, 2.0265), (0.6050, 2.0300), (0.6041, 2.0284),
    (0.6056, 2.0258), (0.6047, 2.0310), (0.6062, 2.0294), (0.6053, 2.0276), (0.6068, 2.0238),
    (0.6059, 2.0304), (0.6074, 2.0280), (0.6065, 2.0299), (0.6080, 2.0257), (0.6071, 2.0309),
    (0.6086, 2.0290), (0.6077, 2.0237), (0.6092, 2.0305), (0.6083, 2.0272), (0.6098, 2.0291),
    (0.6089, 2.0244), (0.6003, 2.0263), (0.6095, 2.0277), (0.6009, 2.0300), (0.6015, 2.0306),
    (0.6006, 2.0252), (0.6033, 2.0245), (0.6048, 2.0268), (0.6063, 2.0250), (0.6078, 2.0268),
    (0.6093, 2.0261), (0.6021, 2.0264), (0.6057, 2.0242), (0.6084, 2.0254), (0.6039, 2.0275),
    (0.6198, 2.0262), (0.6192, 2.0294), (0.6186, 2.0243), (0.6195, 2.0303), (0.6180, 2.0278),
    (0.6189, 2.0232), (0.6174, 2.0304), (0.6183, 2.0287), (0.6168, 2.0258), (0.6177, 2.0307),
    (0.6162, 2.0271), (0.6171, 2.0239), (0.6156, 2.0297), (0.6165, 2.0308), (0.6150, 2.0266),
    (0.6159, 2.0284), (0.6144, 2.0309), (0.6153, 2.0250), (0.6138, 2.0303), (0.6147, 2.0277),
    (0.6132, 2.0236), (0.6141, 2.0307), (0.6126, 2.0283), (0.6135, 2.0294), (0.6120, 2.0249),
    (0.6129, 2.0310), (0.6114, 2.0273), (0.6123, 2.0301), (0.6108, 2.0311), (0.6117, 2.0259),
    (0.6102, 2.0289), (0.6111, 2.0239), (0.6197, 2.0281), (0.6105, 2.0308), (0.6191, 2.0253),
    (0.6100, 2.0276), (0.6185, 2.0298), (0.6194, 2.0236), (0.6179, 2.0291), (0.6188, 2.0270),
    (0.6173, 2.0306), (0.6182, 2.0246), (0.6167, 2.0286), (0.6176, 2.0274), (0.6161, 2.0304),
    (0.6170, 2.0293), (0.6155, 2.0244), (0.6164, 2.0262), (0.6149, 2.0305), (0.6158, 2.0300),
    (0.6143, 2.0280), (0.6152, 2.0233), (0.6137, 2.0267), (0.6146, 2.0297), (0.6131, 2.0309),
    (0.6140, 2.0255), (0.6125, 2.0287), (0.6134, 2.0304), (0.6119, 2.0238), (0.6128, 2.0273),
    (0.6113, 2.0298), (0.6122, 2.0309), (0.6107, 2.0256), (0.6116, 2.0285), (0.6101, 2.0312),
    (0.6110, 2.0301), (0.6196, 2.0291), (0.6104, 2.0245), (0.6190, 2.0300), (0.6184, 2.0265),
    (0.6193, 2.0248), (0.6178, 2.0240), (0.6163, 2.0254), (0.6148, 2.0243), (0.6133, 2.0260),
    (0.6118, 2.0266), (0.6103, 2.0251), (0.6187, 2.0257), (0.6169, 2.0268), (0.6139, 2.0247),
    (0.6201, 2.0301), (0.6207, 2.0268), (0.6213, 2.0304), (0.6204, 2.0232), (0.6219, 2.0283),
    (0.6210, 2.0300), (0.6225, 2.0251), (0.6216, 2.0275), (0.6231, 2.0304), (0.6222, 2.0290),
    (0.6237, 2.0228), (0.6228, 2.0262), (0.6243, 2.0297), (0.6234, 2.0284), (0.6249, 2.0245),
    (0.6240, 2.0303), (0.6255, 2.0271), (0.6246, 2.0292), (0.6261, 2.0227), (0.6252, 2.0278),
    (0.6267, 2.0301), (0.6258, 2.0254), (0.6273, 2.0285), (0.6264, 2.0265), (0.6279, 2.0302),
    (0.6270, 2.0238), (0.6285, 2.0274), (0.6276, 2.0295), (0.6291, 2.0258), (0.6282, 2.0226),
    (0.6297, 2.0288), (0.6288, 2.0299), (0.6202, 2.0277), (0.6294, 2.0241), (0.6208, 2.0306),
    (0.6299, 2.0279), (0.6214, 2.0248), (0.6205, 2.0288), (0.6220, 2.0263), (0.6211, 2.0235),
    (0.6226, 2.0294), (0.6217, 2.0305), (0.6232, 2.0270), (0.6223, 2.0241), (0.6238, 2.0280),
    (0.6229, 2.0299), (0.6244, 2.0232), (0.6235, 2.0257), (0.6250, 2.0292), (0.6241, 2.0276),
    (0.6256, 2.0250), (0.6247, 2.0302), (0.6262, 2.0286), (0.6253, 2.0268), (0.6268, 2.0230),
    (0.6259, 2.0296), (0.6274, 2.0272), (0.6265, 2.0291), (0.6280, 2.0249), (0.6271, 2.0300),
    (0.6286, 2.0282), (0.6277, 2.0229), (0.6292, 2.0296), (0.6283, 2.0264), (0.6298, 2.0283),
    (0.6289, 2.0236), (0.6203, 2.0255), (0.6295, 2.0269), (0.6209, 2.0292), (0.6215, 2.0298),
    (0.6206, 2.0244), (0.6221, 2.0237), (0.6236, 2.0246), (0.6251, 2.0238), (0.6266, 2.0252),
    (0.6281, 2.0243), (0.6296, 2.0252), (0.6227, 2.0256), (0.6242, 2.0262), (0.6257, 2.0233),
    (0.6272, 2.0261), (0.6287, 2.0247), (0.6212, 2.0271), (0.6248, 2.0267), (0.6263, 2.0240),
    (0.6384, 2.0258), (0.6378, 2.0289), (0.6372, 2.0238), (0.6381, 2.0296), (0.6366, 2.0272),
    (0.6375, 2.0226), (0.6360, 2.0294), (0.6369, 2.0280), (0.6354, 2.0251), (0.6363, 2.0298),
    (0.6348, 2.0265), (0.6357, 2.0233), (0.6342, 2.0289), (0.6351, 2.0299), (0.6336, 2.0261),
    (0.6345, 2.0277), (0.6330, 2.0300), (0.6339, 2.0244), (0.6324, 2.0296), (0.6333, 2.0271),
    (0.6318, 2.0230), (0.6327, 2.0299), (0.6312, 2.0276), (0.6321, 2.0287), (0.6306, 2.0242),
    (0.6315, 2.0301), (0.6300, 2.0267), (0.6309, 2.0293), (0.6303, 2.0301), (0.6380, 2.0249),
    (0.6383, 2.0276), (0.6377, 2.0231), (0.6371, 2.0283), (0.6365, 2.0252), (0.6359, 2.0229),
    (0.6353, 2.0273), (0.6347, 2.0242), (0.6341, 2.0256), (0.6335, 2.0234), (0.6329, 2.0283),
    (0.6323, 2.0247), (0.6317, 2.0262), (0.6311, 2.0235), (0.6305, 2.0280), (0.6382, 2.0267),
    (0.6376, 2.0254), (0.6370, 2.0246), (0.6364, 2.0237), (0.6358, 2.0262), (0.6352, 2.0228),
    (0.6346, 2.0250), (0.6340, 2.0238), (0.6334, 2.0284), (0.6328, 2.0255), (0.6322, 2.0229),
    (0.6316, 2.0245), (0.6310, 2.0258), (0.6304, 2.0233), (0.6379, 2.0241), (0.6373, 2.0263),
    (0.6367, 2.0230), (0.6361, 2.0247), (0.6355, 2.0236), (0.6349, 2.0227), (0.6343, 2.0269),
    (0.6337, 2.0248), (0.6331, 2.0240), (0.6325, 2.0268), (0.6319, 2.0252), (0.6313, 2.0227),
    (0.6386, 2.0223), (0.6391, 2.0226), (0.6388, 2.0229), (0.6395, 2.0231), (0.6389, 2.0234),
    (0.6393, 2.0236), (0.6387, 2.0238), (0.6396, 2.0240), (0.6390, 2.0242), (0.6394, 2.0244),
    (0.6386, 2.0246), (0.6392, 2.0248), (0.6397, 2.0250), (0.6388, 2.0252), (0.6391, 2.0254),
    (0.6395, 2.0256), (0.6387, 2.0258), (0.6393, 2.0260), (0.6390, 2.0262), (0.6396, 2.0264),
    (0.6385, 2.0266), (0.6392, 2.0268), (0.6389, 2.0270), (0.6394, 2.0272), (0.6388, 2.0275),
    (0.6397, 2.0277), (0.6391, 2.0280), (0.6386, 2.0283), (0.6395, 2.0286), (0.6390, 2.0289),
    (0.6393, 2.0292), (0.6396, 2.0295), (0.6397, 2.0224), (0.6389, 2.0227), (0.6394, 2.0233),
    (0.6391, 2.0237), (0.6396, 2.0229), (0.6386, 2.0232), (0.6392, 2.0241), (0.6388, 2.0245),
    (0.6395, 2.0247), (0.6390, 2.0251), (0.6397, 2.0257), (0.6393, 2.0253), (0.6387, 2.0261),
    (0.6391, 2.0265), (0.6396, 2.0271), (0.6389, 2.0274), (0.6394, 2.0279), (0.6392, 2.0284),
    (0.6397, 2.0236), (0.6385, 2.0225), (0.6398, 2.0243), (0.6388, 2.0239), (0.6393, 2.0228),
    (0.6396, 2.0259), (0.6390, 2.0222), (0.6398, 2.0263), (0.6387, 2.0249), (0.6394, 2.0267),
]

# extra points along the dense lower part of the band, 0.45 - 0.55
pts_lower_band = [
    (0.4512, 2.0331), (0.4538, 2.0339), (0.4563, 2.0328), (0.4587, 2.0336), (0.4614, 2.0322),
    (0.4636, 2.0331), (0.4659, 2.0319), (0.4684, 2.0327), (0.4706, 2.0313), (0.4733, 2.0322),
    (0.4757, 2.0316), (0.4781, 2.0311), (0.4806, 2.0322), (0.4833, 2.0305), (0.4857, 2.0317),
    (0.4884, 2.0309), (0.4906, 2.0301), (0.4933, 2.0312), (0.4957, 2.0300), (0.4982, 2.0308),
    (0.5006, 2.0299), (0.5033, 2.0294), (0.5057, 2.0305), (0.5084, 2.0296), (0.5106, 2.0289),
    (0.5133, 2.0298), (0.5157, 2.0286), (0.5181, 2.0293), (0.5206, 2.0285), (0.5233, 2.0281),
    (0.5257, 2.0290), (0.5284, 2.0279), (0.5306, 2.0276), (0.5333, 2.0284), (0.5357, 2.0273),
    (0.5381, 2.0280), (0.5406, 2.0277), (0.5433, 2.0270), (0.5457, 2.0276), (0.5484, 2.0268),
]

x_ticks = [0.4, 0.45, 0.5, 0.55, 0.6, 0.65]
y_ticks = [2.02, 2.025, 2.03, 2.035, 2.04, 2.045, 2.05]

all_pts = (pts_040_044 + pts_044_048 + pts_048_052 + pts_052_056
           + pts_056_060 + pts_060_064 + pts_lower_band)
df = pd.DataFrame(all_pts, columns=["sin2", "ratio"])

sns.set_style("ticks")
plt.rcParams["font.family"] = ["Liberation Sans", "DejaVu Sans"]
plt.rcParams["mathtext.fontset"] = "custom"
plt.rcParams["mathtext.rm"] = "Liberation Sans"
plt.rcParams["mathtext.it"] = "Liberation Sans"
plt.rcParams["mathtext.default"] = "regular"
plt.rcParams["text.color"] = "black"
plt.rcParams["axes.labelcolor"] = "black"

fig = plt.figure(figsize=(7.1, 5.61), dpi=100)
ax = fig.add_axes([0.1606, 0.123, 0.8140, 0.8004])

sns.scatterplot(data=df, x="sin2", y="ratio", ax=ax, color="#0000ff",
                s=11, linewidth=0, alpha=1.0, legend=False)

ax.set_xlim(0.4, 0.65)
ax.set_ylim(2.02, 2.05)
ax.xaxis.set_major_locator(FixedLocator(x_ticks))
ax.yaxis.set_major_locator(FixedLocator(y_ticks))
fmt = FuncFormatter(lambda v, p: "%g" % round(v, 4))
ax.xaxis.set_major_formatter(fmt)
ax.yaxis.set_major_formatter(fmt)

ax.tick_params(direction="in", length=5, width=0.8, top=True, right=True,
               labelsize=13, colors="black")
ax.tick_params(axis="x", pad=7)
ax.tick_params(axis="y", pad=4.5)
for sp in ax.spines.values():
    sp.set_visible(True)
    sp.set_linewidth(0.9)
    sp.set_color("black")

ax.set_xlabel(r"sin$^2$($\theta_{23}$)", fontsize=18.5, labelpad=6, color="black")
ax.set_ylabel(r"(m$_1$ + m$_2$ + m$_3$)/$\Delta^{1/2}$", fontsize=18.5, labelpad=10,
              color="black")
ax.set_title("Model B8, inverted hierarchy", fontsize=17.5, pad=10, color="black")

fig.savefig("out.png", dpi=100)
